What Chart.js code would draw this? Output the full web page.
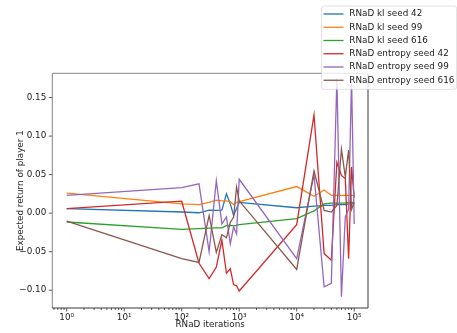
<!DOCTYPE html>
<html><head><meta charset="utf-8">
<script src="https://cdn.jsdelivr.net/npm/chart.js@4"></script>
<style>html,body{margin:0;padding:0;background:#fff}canvas{display:block}</style>
</head><body>
<canvas id="c" width="457" height="333"></canvas>
<script>
// ---- data ----
const ITERATIONS = [1,100,200,300,400,500,600,700,800,900,1000,10000,20000,30000,40000,50000,60000,70000,80000,90000,100000];
const KL_SEED_42  = [0.006,0.0015,0.0005,0.004,0.0035,0.004,0.025,0.012,-0.003,0.006,0.014,0.007,0.009,0.010,0.010,0.011,0.011,0.011,0.012,0.012,0.012];
const KL_SEED_99  = [0.026,0.012,0.011,0.014,0.017,0.016,0.016,0.015,0.011,0.014,0.015,0.0345,0.022,0.030,0.023,0.023,0.023,0.023,0.023,0.023,0.023];
const KL_SEED_616 = [-0.0115,-0.021,-0.020,-0.0195,-0.019,-0.019,-0.016,-0.016,-0.0165,-0.016,-0.015,-0.007,0.003,0.012,0.013,0.013,0.013,0.013,0.014,0.014,0.014];
const ENT_SEED_42 = [0.006,0.0155,-0.065,-0.085,-0.070,-0.035,-0.078,-0.072,-0.093,-0.094,-0.101,-0.015,0.1275,-0.0525,-0.061,0.066,0.049,0.045,-0.059,0.060,0.020];
const ENT_SEED_99 = [0.023,0.033,0.038,-0.050,0.042,-0.014,-0.005,-0.040,-0.018,-0.027,0.044,-0.059,0.050,-0.0956,-0.091,0.175,-0.1085,-0.005,0.005,0.175,-0.014];
const ENT_SEED_616= [-0.0103,-0.059,-0.064,-0.003,-0.051,-0.028,-0.032,-0.012,-0.005,0.034,0.016,-0.073,0.055,0.0035,0.0013,0.010,0.083,0.047,0.082,0.005,0.014];
const SERIES_LABELS = ['RNaD kl seed 42','RNaD kl seed 99','RNaD kl seed 616','RNaD entropy seed 42','RNaD entropy seed 99','RNaD entropy seed 616'];
const SERIES_VALUES = [KL_SEED_42,KL_SEED_99,KL_SEED_616,ENT_SEED_42,ENT_SEED_99,ENT_SEED_616];
const Y_TICKS = [-0.10,-0.05,0.00,0.05,0.10,0.15];
const X_TICK_LABELS = {0:'10\u2070',1:'10\u00b9',2:'10\u00b2',3:'10\u00b3',4:'10\u2074',5:'10\u2075'};
const X_TITLE = 'RNaD iterations';
const Y_TITLE = 'Expected return of player 1';

// ---- style ----
const COLORS = ['#1f77b4','#ff7f0e','#2ca02c','#d62728','#9467bd','#8c564b'];
const FONT = 'DejaVu Sans';
const FS = 8.8;

const datasets = SERIES_LABELS.map((label,i)=>({
  label,
  data: ITERATIONS.map((x,j)=>({x, y: SERIES_VALUES[i][j]})),
  borderColor: COLORS[i], backgroundColor: COLORS[i],
  borderWidth: 1.3, pointRadius: 0, tension: 0, fill: false,
  order: SERIES_LABELS.length - 1 - i, clip: 0
}));

const decor = {
  id: 'decor',
  afterDatasetsDraw(chart){
    const {ctx, chartArea: a, scales: {x, y}} = chart;
    ctx.save();
    ctx.strokeStyle = '#333'; ctx.lineWidth = 0.8;
    for (let k=-1;k<=6;k++) for (let m=1;m<10;m++){
      const v = m*Math.pow(10,k);
      if (v < x.min || v > x.max) continue;
      const px = x.getPixelForValue(v);
      const len = m===1 ? 3.5 : 2;
      ctx.beginPath(); ctx.moveTo(px, a.bottom); ctx.lineTo(px, a.bottom+len); ctx.stroke();
    }
    Y_TICKS.forEach(v=>{
      const py = y.getPixelForValue(v);
      ctx.beginPath(); ctx.moveTo(a.left-3.5, py); ctx.lineTo(a.left, py); ctx.stroke();
    });
    ctx.lineWidth = 0.9;
    ctx.strokeStyle = '#777';
    ctx.beginPath(); ctx.moveTo(a.left, a.top); ctx.lineTo(a.right, a.top); ctx.stroke();
    ctx.beginPath(); ctx.moveTo(a.left, a.top); ctx.lineTo(a.left, a.bottom); ctx.stroke();
    ctx.strokeStyle = '#222';
    ctx.beginPath(); ctx.moveTo(a.left, a.bottom); ctx.lineTo(a.right, a.bottom); ctx.stroke();
    ctx.beginPath(); ctx.moveTo(a.right, a.top); ctx.lineTo(a.right, a.bottom); ctx.stroke();
    ctx.restore();
  },
  afterDraw(chart){
    const ctx = chart.ctx;
    ctx.save();
    const bx = 321.7, by = 6, bw = 135, bh = 83.3, r = 2.5;
    ctx.beginPath();
    ctx.moveTo(bx+r,by); ctx.lineTo(bx+bw-r,by); ctx.arcTo(bx+bw,by,bx+bw,by+r,r);
    ctx.lineTo(bx+bw,by+bh-r); ctx.arcTo(bx+bw,by+bh,bx+bw-r,by+bh,r);
    ctx.lineTo(bx+r,by+bh); ctx.arcTo(bx,by+bh,bx,by+bh-r,r);
    ctx.lineTo(bx,by+r); ctx.arcTo(bx,by,bx+r,by,r); ctx.closePath();
    ctx.fillStyle = 'rgba(255,255,255,0.8)'; ctx.fill();
    ctx.strokeStyle = 'rgba(204,204,204,0.8)'; ctx.lineWidth = 0.8; ctx.stroke();
    ctx.font = FS + 'px "' + FONT + '"';
    ctx.textBaseline = 'middle'; ctx.textAlign = 'left';
    chart.data.datasets.forEach((ds,i)=>{
      const cy = 14 + i*13.25;
      ctx.strokeStyle = ds.borderColor; ctx.lineWidth = 1.3;
      ctx.beginPath(); ctx.moveTo(323.5, cy); ctx.lineTo(343.5, cy); ctx.stroke();
      ctx.fillStyle = '#222';
      ctx.fillText(ds.label, 349.3, cy);
    });
    ctx.restore();
  }
};

new Chart(document.getElementById('c'), {
  type: 'line',
  data: { datasets },
  options: {
    responsive: false, animation: false, devicePixelRatio: 1,
    layout: { padding: { top: 73.3, right: 89, left: 0, bottom: 0 } },
    plugins: { legend: { display: false }, tooltip: { enabled: false } },
    scales: {
      x: {
        type: 'logarithmic', min: 0.5618, max: 173780,
        grid: { display: false, drawTicks: false },
        border: { display: false },
        ticks: {
          autoSkip: false, maxRotation: 0, padding: 4, color: '#222',
          font: { family: FONT, size: FS },
          callback: (v) => { const l = Math.log10(v); const rl = Math.round(l);
            return Math.abs(l-rl) < 1e-9 && X_TICK_LABELS[rl] ? X_TICK_LABELS[rl] : ''; }
        },
        title: { display: true, text: X_TITLE, color: '#222', font: { family: FONT, size: FS }, padding: { top: 0, bottom: 2.7 } },
        afterFit: (s) => { s.height = 25; }
      },
      y: {
        type: 'linear', min: -0.1231, max: 0.1815,
        afterBuildTicks: (s) => { s.ticks = Y_TICKS.map(v => ({ value: v })); },
        grid: { display: false, drawTicks: false },
        border: { display: false },
        ticks: {
          padding: 6, color: '#222', font: { family: FONT, size: FS },
          callback: (v) => (v < 0 ? '\u2212' : '') + Math.abs(v).toFixed(2)
        },
        title: { display: true, text: Y_TITLE, color: '#222', font: { family: FONT, size: FS }, padding: { top: 15.2, bottom: 0 } },
        afterFit: (s) => { s.width = 52.3; }
      }
    }
  },
  plugins: [decor]
});
</script>
</body></html>
